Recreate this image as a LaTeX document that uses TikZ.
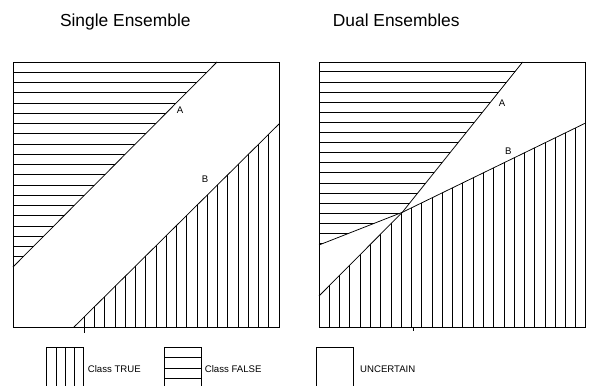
\documentclass[tikz,border=0pt]{standalone}
\usepackage{fontspec}
\setmainfont{Liberation Sans}
\begin{document}
\begin{tikzpicture}[x=1pt,y=-1pt,
  edge/.style={line width=0.75pt, line join=miter},
  hatch/.style={line width=0.7pt},
  title/.style={font=\fontsize{17.4}{20}\selectfont, anchor=base, inner sep=0pt},
  lbl/.style={font=\fontsize{9.6}{11}\selectfont, anchor=base, inner sep=0pt},
  legtext/.style={font=\fontsize{9.6}{11}\selectfont, anchor=base west, inner sep=0pt}]
\useasboundingbox (0,0) rectangle (593,385);

% ---------- Left panel: Single Ensemble ----------
\coordinate (L1) at (13,62);
\coordinate (L2) at (279,327);
\coordinate (LAt) at (217,62);
\coordinate (LAl) at (13,267);
\coordinate (LBr) at (279,124);
\coordinate (LBb) at (74,327);

\begin{scope}
  \clip (L1) -- (LAt) -- (LAl) -- cycle;
  \foreach \k in {1,...,20} \draw[hatch] (13,{62+\k*10.25}) -- (279,{62+\k*10.25});
\end{scope}
\begin{scope}
  \clip (LBr) -- (279,327) -- (LBb) -- cycle;
  \foreach \k in {0,...,18} \draw[hatch] ({84.3+\k*10.25},62) -- ({84.3+\k*10.25},327);
\end{scope}
\coordinate (Ltick) at (84.3,333);
\draw[hatch] (84.3,327) -- (Ltick);
\draw[edge] (L1) rectangle (L2);
\draw[edge] (LAt) -- (LAl);
\draw[edge] (LBr) -- (LBb);
\node[lbl] (la) at (180,113.7) {A};
\node[lbl] (lb) at (205,182.3) {B};
\node[title] (t1) at (125.3,26.7) {Single Ensemble};

% ---------- Right panel: Dual Ensembles ----------
\coordinate (R1) at (319,62);
\coordinate (R2) at (585,327);
\coordinate (I) at (402.3,212.3);
\coordinate (RAt) at (522.7,62);
\coordinate (RAl) at (319,296);
\coordinate (RBr) at (585,123.3);
\coordinate (RBl) at (319,245);

\begin{scope}
  \clip (R1) -- (RAt) -- (I) -- (RBl) -- cycle;
  \foreach \k in {1,...,18} \draw[hatch] (319,{61.7+\k*10.1}) -- (585,{61.7+\k*10.1});
\end{scope}
\begin{scope}
  \clip (I) -- (RBr) -- (585,327) -- (319,327) -- (RAl) -- cycle;
  \foreach \k in {1,...,25} \draw[hatch] ({319+\k*10.27},62) -- ({319+\k*10.27},327);
\end{scope}
\coordinate (Rtick) at (413.3,330.5);
\draw[hatch] (413.3,327) -- (Rtick);
\draw[edge] (R1) rectangle (R2);
\draw[edge] (RAt) -- (I) -- (RAl);
\draw[edge] (RBr) -- (I) -- (RBl);
\node[lbl] (ra) at (502,106.7) {A};
\node[lbl] (rb) at (508.4,154) {B};
\node[title] (t2) at (396.2,26.7) {Dual Ensembles};

% ---------- Legend ----------
\draw[edge] (46.7,386) -- (46.7,347.3) -- (83.3,347.3) -- (83.3,386);
\foreach \x in {56,65.3,74.7} \draw[hatch] (\x,347.3) -- (\x,386);
\node[legtext] (ltrue) at (87.7,372) {Class TRUE};

\draw[edge] (164.3,386) -- (164.3,347.3) -- (201,347.3) -- (201,386);
\foreach \y in {357.3,368,378.3} \draw[hatch] (164.3,\y) -- (201,\y);
\node[legtext] (lfalse) at (204.7,372) {Class FALSE};

\draw[edge] (316.7,386) -- (316.7,347.3) -- (353.3,347.3) -- (353.3,386);
\node[legtext] (lunc) at (360,372) {UNCERTAIN};
\end{tikzpicture}
\end{document}
